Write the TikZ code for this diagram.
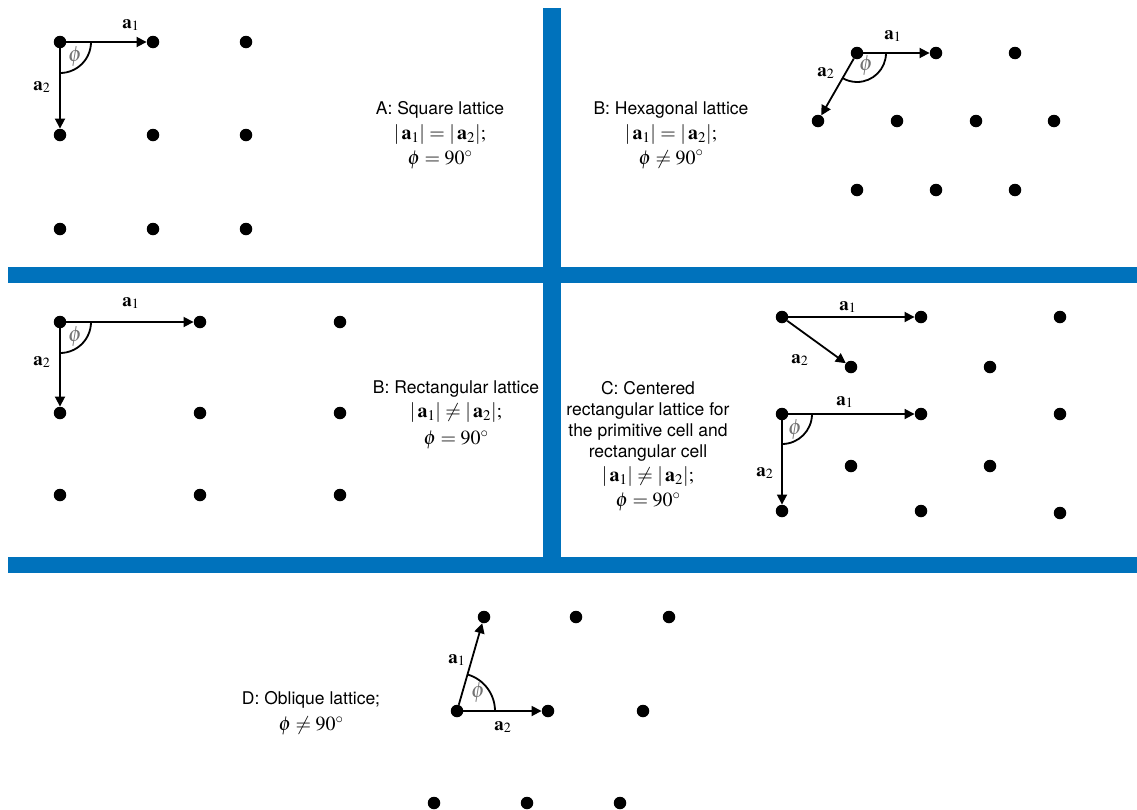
\documentclass[tikz,border=0pt]{standalone}
\usepackage{amsmath}
\usepackage{mathptmx}
\usepackage{fontspec}
\usepackage{tikz}
\usetikzlibrary{positioning, arrows.meta}
\newfontfamily\captionfont{TeX Gyre Heros}
\definecolor{latticeblue}{RGB}{0, 114, 188}
\newcommand{\mathline}[1]{{\fontsize{20}{22}\selectfont$#1$}}

\tikzset{
  site/.style={circle, fill=black, inner sep=0pt, minimum size=12.5pt},
  vec/.style={line width=1.8pt, -{Triangle[length=10pt, width=10pt]}},
  anglearc/.style={line width=1.8pt},
  veclabel/.style={font=\fontsize{19}{20}\selectfont, inner sep=0pt},
  anglelabel/.style={text=black!55, font=\fontsize{22}{22}\selectfont, inner sep=0pt},
  caption/.style={align=center, inner sep=0pt}
}

\begin{document}
\begin{tikzpicture}[x=1pt, y=-1pt]
  \useasboundingbox (0,0) rectangle (1137,809);

  % panel separators
  \fill[latticeblue] (543,8) rectangle (561,557);
  \fill[latticeblue] (8,267) rectangle (1137,283);
  \fill[latticeblue] (8,557) rectangle (1137,573);

  % A: square lattice
  \foreach \c/\x in {0/60, 1/153, 2/246}
    \foreach \r/\y in {0/42, 1/135, 2/229}
      \node[site] (sq\c\r) at (\x,\y) {};
  \draw[vec] (sq00) -- (sq10);
  \draw[vec] (sq00) -- (sq01);
  \draw[anglearc] (91,42) arc[start angle=0, end angle=90, radius=31];
  \node[veclabel] (sqa1) at (131,25) {$\mathbf{a}_1$};
  \node[veclabel] (sqa2) at (42,87) {$\mathbf{a}_2$};
  \node[anglelabel] (sqphi) at (75,57) {$\phi$};
  \node[caption, font=\fontsize{17.5}{25}\selectfont] (sqtext) at (440,135)
    {{\captionfont A: Square lattice}\\
     \mathline{\lvert\,\mathbf{a}_1\rvert = \lvert\,\mathbf{a}_2\rvert;}\\
     \mathline{\phi = 90^{\circ}}};

  % B: hexagonal lattice
  \foreach \c/\x in {0/857, 1/936, 2/1015}
    \node[site] (hx\c0) at (\x,53) {};
  \foreach \c/\x in {0/818, 1/897, 2/976, 3/1054}
    \node[site] (hx\c1) at (\x,121) {};
  \foreach \c/\x in {0/857, 1/936, 2/1015}
    \node[site] (hx\c2) at (\x,190) {};
  \draw[vec] (hx00) -- (hx10);
  \draw[vec] (hx00) -- (hx01);
  \draw[anglearc] (886,53) arc[start angle=0, end angle=120, radius=29];
  \node[veclabel] (hxa1) at (893,36) {$\mathbf{a}_1$};
  \node[veclabel] (hxa2) at (826,73) {$\mathbf{a}_2$};
  \node[anglelabel] (hxphi) at (866,66) {$\phi$};
  \node[caption, font=\fontsize{17.5}{25}\selectfont] (hxtext) at (671,135)
    {{\captionfont B: Hexagonal lattice}\\
     \mathline{\lvert\,\mathbf{a}_1\rvert = \lvert\,\mathbf{a}_2\rvert;}\\
     \mathline{\phi \neq 90^{\circ}}};

  % B: rectangular lattice
  \foreach \c/\x in {0/60, 1/200, 2/340}
    \foreach \r/\y in {0/322, 1/413, 2/495}
      \node[site] (rc\c\r) at (\x,\y) {};
  \draw[vec] (rc00) -- (rc10);
  \draw[vec] (rc00) -- (rc01);
  \draw[anglearc] (91,322) arc[start angle=0, end angle=90, radius=31];
  \node[veclabel] (rca1) at (131,303) {$\mathbf{a}_1$};
  \node[veclabel] (rca2) at (42,362) {$\mathbf{a}_2$};
  \node[anglelabel] (rcphi) at (75,337) {$\phi$};
  \node[caption, font=\fontsize{17.5}{24}\selectfont] (rctext) at (456,415)
    {{\captionfont B: Rectangular lattice}\\
     \mathline{\lvert\,\mathbf{a}_1\rvert \neq \lvert\,\mathbf{a}_2\rvert;}\\[3pt]
     \mathline{\phi = 90^{\circ}}};

  % C: centered rectangular lattice, primitive cell
  \node[site] (cpO) at (782,317) {};
  \node[site] (cp10) at (921,317) {};
  \node[site] (cp20) at (1060,317) {};
  \node[site] (cp01) at (851,367) {};
  \node[site] (cp11) at (990,367) {};
  \draw[vec] (cpO) -- (cp10);
  \draw[vec] (cpO) -- (cp01);
  \node[veclabel] (cpa1) at (848,307) {$\mathbf{a}_1$};
  \node[veclabel] (cpa2) at (800,360) {$\mathbf{a}_2$};

  % C: centered rectangular lattice, rectangular cell
  \node[site] (ccO) at (782,414) {};
  \node[site] (cc10) at (921,414) {};
  \node[site] (cc20) at (1060,414) {};
  \node[site] (cc01) at (851,466) {};
  \node[site] (cc11) at (990,466) {};
  \node[site] (cc02) at (782,511) {};
  \node[site] (cc12) at (921,511) {};
  \node[site] (cc22) at (1060,513) {};
  \draw[vec] (ccO) -- (cc10);
  \draw[vec] (ccO) -- (cc02);
  \draw[anglearc] (812,414) arc[start angle=0, end angle=90, radius=30];
  \node[veclabel] (cca1) at (845,402) {$\mathbf{a}_1$};
  \node[veclabel] (cca2) at (765,473) {$\mathbf{a}_2$};
  \node[anglelabel] (ccphi) at (795,430) {$\phi$};
  \node[caption, font=\fontsize{17.5}{21}\selectfont] (cctext) at (648,446)
    {{\captionfont C: Centered}\\
     {\captionfont rectangular lattice for}\\
     {\captionfont the primitive cell and}\\
     {\captionfont rectangular cell}\\[3pt]
     \mathline{\lvert\,\mathbf{a}_1\rvert \neq \lvert\,\mathbf{a}_2\rvert;}\\[4pt]
     \mathline{\phi = 90^{\circ}}};

  % D: oblique lattice
  \node[site] (obO) at (457,711) {};
  \node[site] (ob10) at (484,617) {};
  \node[site] (ob20) at (576,617) {};
  \node[site] (ob30) at (669,617) {};
  \node[site] (ob01) at (548,711) {};
  \node[site] (ob11) at (643,711) {};
  \node[site] (ob02) at (434,803) {};
  \node[site] (ob12) at (527,803) {};
  \node[site] (ob22) at (620,803) {};
  \draw[vec] (obO) -- (ob10);
  \draw[vec] (obO) -- (ob01);
  \draw[anglearc] (495,711) arc[start angle=0, end angle=-74, radius=38];
  \node[veclabel] (oba1) at (457,660) {$\mathbf{a}_1$};
  \node[veclabel] (oba2) at (503,727) {$\mathbf{a}_2$};
  \node[anglelabel] (obphi) at (478,693) {$\phi$};
  \node[caption, font=\fontsize{17.5}{26}\selectfont] (obtext) at (311,713)
    {{\captionfont D: Oblique lattice;}\\
     \mathline{\phi \neq 90^{\circ}}};
\end{tikzpicture}
\end{document}
